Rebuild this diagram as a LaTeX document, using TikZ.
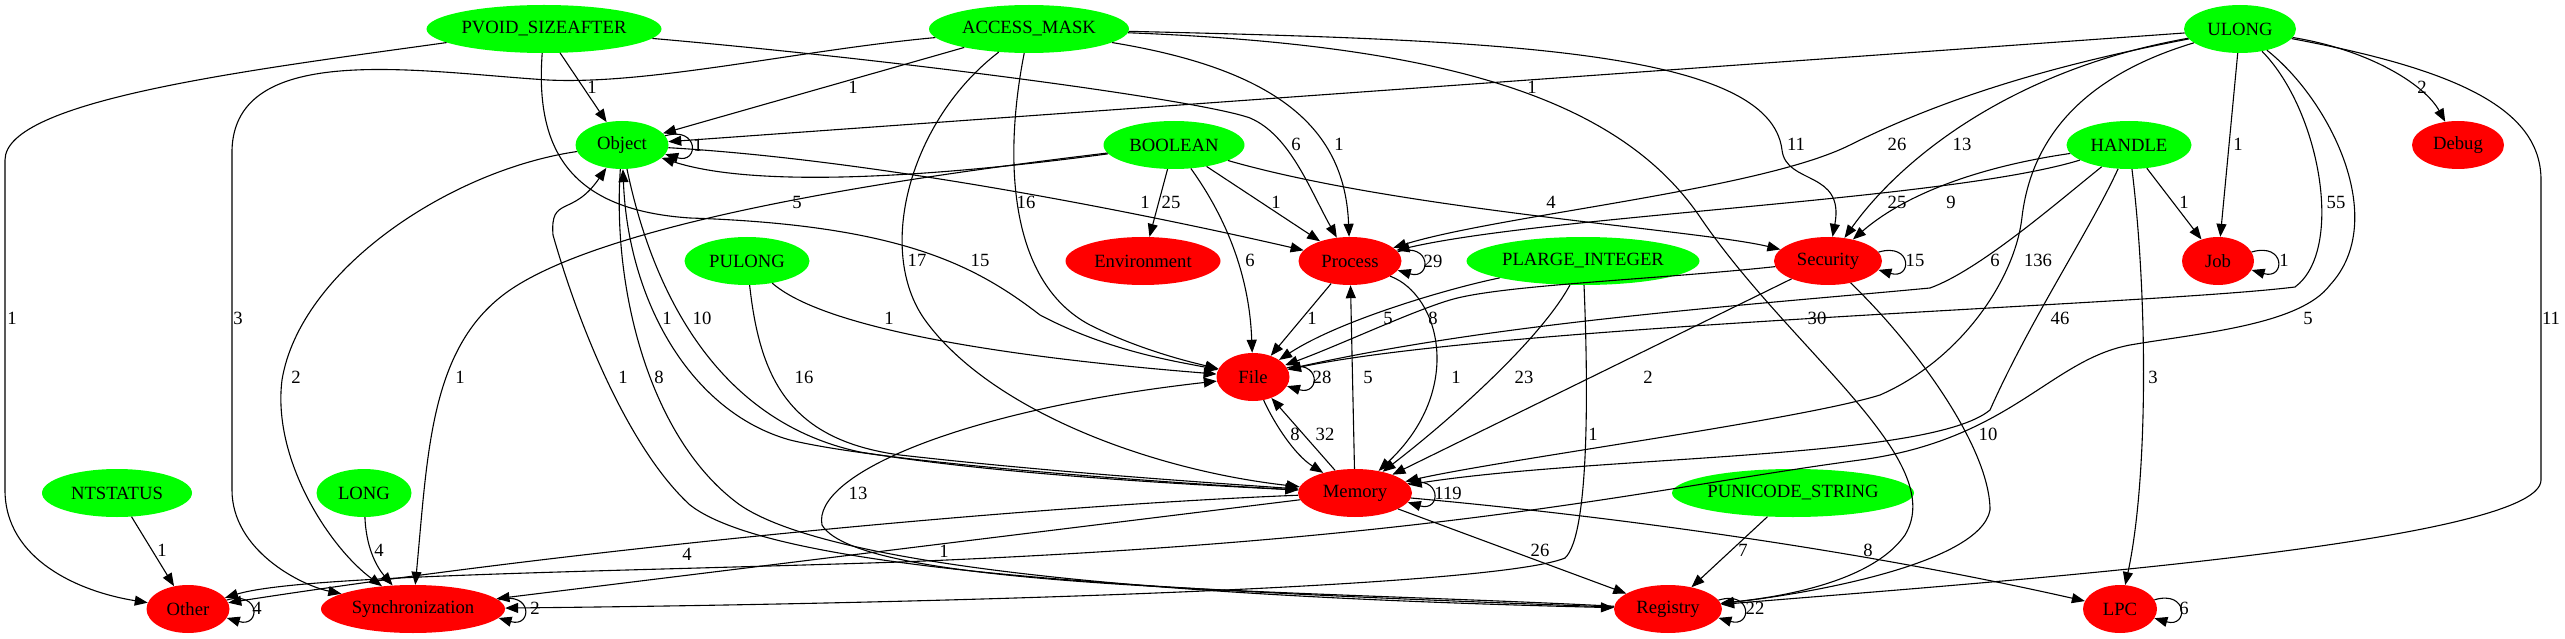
\documentclass[tikz,border=0pt]{standalone}
\usepackage{fontspec}
\setmainfont{Liberation Serif}
\usetikzlibrary{shapes.geometric,arrows.meta}
\definecolor{typegreen}{RGB}{0,255,0}
\definecolor{catred}{RGB}{255,0,0}
\newcommand\myloop[2]{\draw[conn] (#1.#2) .. controls +(34,-10) and +(34,10) .. (#1.-#2);}
\begin{document}
\begin{tikzpicture}[x=1pt,y=-1pt,
  tnode/.style={ellipse, fill=typegreen, inner sep=0pt, minimum height=48pt, font=\fontsize{18.67}{22}\selectfont},
  cnode/.style={ellipse, fill=catred, inner sep=0pt, minimum height=48pt, font=\fontsize{18.67}{22}\selectfont},
  lbl/.style={inner sep=0pt, font=\fontsize{18.67}{22}\selectfont},
  conn/.style={draw=black, line width=1.1pt, -{Triangle[length=13pt,width=10pt]}}]
\fill[white] (0,0) rectangle (2565,639);
\useasboundingbox (0,0) rectangle (2565,639);
% nodes
\node[tnode,minimum width=235pt] (pvoid) at (544,29) {PVOID\_SIZEAFTER};
\node[tnode,minimum width=200pt] (access) at (1029,29) {ACCESS\_MASK};
\node[tnode,minimum width=112pt] (ulong) at (2240,29) {ULONG};
\node[tnode,minimum width=93pt] (object) at (622,145) {Object};
\node[tnode,minimum width=141pt] (boolean) at (1174,145) {BOOLEAN};
\node[tnode,minimum width=125pt] (handle) at (2129,145) {HANDLE};
\node[cnode,minimum width=92pt] (debug) at (2458,145) {Debug};
\node[tnode,minimum width=125pt] (pulong) at (747,261) {PULONG};
\node[cnode,minimum width=155pt] (env) at (1143,261) {Environment};
\node[cnode,minimum width=103pt] (process) at (1350,261) {Process};
\node[tnode,minimum width=233pt] (plarge) at (1583,261) {PLARGE\_INTEGER};
\node[cnode,minimum width=108pt] (security) at (1828,261) {Security};
\node[cnode,minimum width=72pt] (job) at (2218,261) {Job};
\node[cnode,minimum width=73pt] (file) at (1253,377) {File};
\node[tnode,minimum width=150pt] (ntstatus) at (117,493) {NTSTATUS};
\node[tnode,minimum width=95pt] (long) at (364,493) {LONG};
\node[cnode,minimum width=114pt] (memory) at (1355,493) {Memory};
\node[tnode,minimum width=242pt] (punicode) at (1793,493) {PUNICODE\_STRING};
\node[cnode,minimum width=83pt] (other) at (188,609) {Other};
\node[cnode,minimum width=184pt] (sync) at (413,609) {Synchronization};
\node[cnode,minimum width=108pt] (registry) at (1668,609) {Registry};
\node[cnode,minimum width=74pt] (lpc) at (2120,609) {LPC};
% edges
\draw[conn] (pvoid) -- (object);
\draw[conn] (pvoid) .. controls (250,70) and (5,100) .. (5,160) -- (5,490) .. controls (5,560) and (80,592) .. (other);
\draw[conn] (access) .. controls (800,50) and (650,85) .. (548,80) .. controls (420,72) and (235,40) .. (232,150) -- (232,490) .. controls (232,550) and (300,585) .. (sync);
\draw[conn] (pvoid) .. controls (900,60) and (1200,100) .. (1250,118) .. controls (1290,135) and (1310,190) .. (process);
\draw[conn] (access) .. controls (1280,70) and (1345,130) .. (process);
\draw[conn] (access) -- (object);
\draw[conn] (ulong) -- (object);
\draw[conn] (boolean) .. controls (950,175) and (760,190) .. (object);
\draw[conn] (boolean) .. controls (950,172) and (620,215) .. (510,290) .. controls (430,345) and (428,450) .. (sync);
\draw[conn] (boolean) -- (env);
\draw[conn] (object) .. controls (880,160) and (1150,215) .. (process);
\draw[conn] (boolean) -- (process);
\draw[conn] (boolean) .. controls (1400,210) and (1700,230) .. (security);
\draw[conn] (boolean) .. controls (1235,230) and (1250,290) .. (file);
\draw[conn] (access) .. controls (1005,150) and (1005,280) .. (1090,325) .. controls (1140,350) and (1190,362) .. (file);
\draw[conn] (access) .. controls (910,120) and (875,250) .. (925,320) .. controls (990,410) and (1150,470) .. (memory);
\draw[conn] (access) .. controls (1500,40) and (1770,50) .. (1782,150) .. controls (1786,185) and (1845,170) .. (security);
\draw[conn] (access) .. controls (1450,45) and (1620,100) .. (1700,217) .. controls (1790,350) and (1950,460) .. (1905,535) .. controls (1870,585) and (1770,598) .. (registry);
\draw[conn] (ulong) .. controls (2080,60) and (1960,90) .. (1850,145) .. controls (1760,190) and (1500,215) .. (process);
\draw[conn] (handle) .. controls (1950,200) and (1550,215) .. (process);
\draw[conn] (ulong) .. controls (2010,70) and (1900,160) .. (security);
\draw[conn] (handle) .. controls (1990,165) and (1910,190) .. (security);
\draw[conn] (ulong) -- (job);
\draw[conn] (handle) -- (job);
\draw[conn] (ulong) .. controls (2370,50) and (2425,85) .. (debug);
\draw[conn] (ulong) .. controls (2320,110) and (2345,250) .. (2295,287) .. controls (2150,305) and (1500,325) .. (file);
\draw[conn] (handle) .. controls (2060,200) and (1980,270) .. (1930,288) .. controls (1750,305) and (1500,322) .. (file);
\draw[conn] (ulong) .. controls (2070,80) and (2030,150) .. (2022,217) .. controls (2015,280) and (1960,360) .. (1880,395) .. controls (1800,420) and (1500,460) .. (memory);
\draw[conn] (handle) .. controls (2090,230) and (2030,320) .. (1990,410) .. controls (1930,460) and (1600,455) .. (memory);
\draw[conn] (ulong) .. controls (2330,100) and (2390,220) .. (2330,285) .. controls (2300,325) and (2200,333) .. (2130,345) .. controls (2050,360) and (2010,440) .. (1860,460) .. controls (1650,488) and (1450,540) .. (900,562) .. controls (600,572) and (300,575) .. (other);
\draw[conn] (ulong) .. controls (2460,70) and (2541,110) .. (2541,180) -- (2541,480) .. controls (2541,545) and (1950,585) .. (registry);
\draw[conn] (handle) .. controls (2148,300) and (2148,480) .. (lpc);
\draw[conn] (plarge) .. controls (1450,288) and (1340,320) .. (file);
\draw[conn] (security) .. controls (1650,280) and (1500,285) .. (1450,300) .. controls (1410,312) and (1340,345) .. (file);
\draw[conn] (process) -- (file);
\draw[conn] (pulong) .. controls (820,325) and (980,355) .. (file);
\draw[conn] (pvoid) .. controls (535,150) and (570,210) .. (690,218) .. controls (900,225) and (975,265) .. (1040,315) .. controls (1110,352) and (1180,362) .. (file);
\draw[conn] (pulong) .. controls (760,380) and (790,440) .. (900,455) .. controls (1050,472) and (1200,482) .. (memory);
\draw[conn] (object) .. controls (650,280) and (710,420) .. (860,452) .. controls (1000,475) and (1200,485) .. (memory);
\draw[conn] (memory) .. controls (1150,482) and (880,462) .. (790,440) .. controls (690,412) and (628,300) .. (object);
\draw[conn] (object) .. controls (612,290) and (650,440) .. (740,505) .. controls (850,580) and (1300,600) .. (registry);
\draw[conn] (registry) .. controls (1200,592) and (780,575) .. (690,505) .. controls (630,450) and (580,330) .. (553,235) .. controls (550,195) and (572,218) .. (object);
\draw[conn] (object) .. controls (450,170) and (300,270) .. (282,380) .. controls (272,460) and (330,548) .. (sync);
\draw[conn] (long) .. controls (366,545) and (375,565) .. (sync);
\draw[conn] (ntstatus) -- (other);
\draw[conn] (memory) .. controls (1050,505) and (600,545) .. (other);
\draw[conn] (memory) -- (sync);
\draw[conn] (plarge) .. controls (1588,380) and (1590,535) .. (1565,558) .. controls (1500,585) and (1000,603) .. (sync);
\draw[conn] (plarge) .. controls (1540,340) and (1450,420) .. (memory);
\draw[conn] (security) -- (memory);
\draw[conn] (process) .. controls (1440,295) and (1465,390) .. (memory);
\draw[conn] (memory) -- (process);
\draw[conn] (file) .. controls (1275,425) and (1295,455) .. (memory);
\draw[conn] (memory) -- (file);
\draw[conn] (registry) .. controls (1300,590) and (860,590) .. (822,525) .. controls (812,475) and (960,410) .. (file);
\draw[conn] (memory) -- (registry);
\draw[conn] (memory) .. controls (1600,515) and (1850,548) .. (lpc);
\draw[conn] (punicode) -- (registry);
\draw[conn] (security) .. controls (1920,350) and (1990,450) .. (1990,510) .. controls (1980,565) and (1800,595) .. (registry);
% self loops
\myloop{object}{12}
\myloop{process}{11}
\myloop{security}{10}
\myloop{job}{15}
\myloop{file}{15}
\myloop{memory}{10}
\myloop{registry}{10}
\myloop{lpc}{15}
\myloop{other}{13}
\myloop{sync}{6}
% edge labels
\node[lbl] (l1) at (592,87) {1};
\node[lbl] (l2) at (12,318) {1};
\node[lbl] (l3) at (238,318) {3};
\node[lbl] (l4) at (1296,144) {6};
\node[lbl] (l5) at (1339,144) {1};
\node[lbl] (l6) at (853,87) {1};
\node[lbl] (l7) at (1532,87) {1};
\node[lbl] (l8) at (698,145) {1};
\node[lbl] (l9) at (797,202) {5};
\node[lbl] (l10) at (460,377) {1};
\node[lbl] (l11) at (1171,202) {25};
\node[lbl] (l12) at (1145,202) {1};
\node[lbl] (l13) at (1276,202) {1};
\node[lbl] (l14) at (1551,202) {4};
\node[lbl] (l15) at (1250,260) {6};
\node[lbl] (l16) at (1026,202) {16};
\node[lbl] (l17) at (917,260) {17};
\node[lbl] (l18) at (1796,144) {11};
\node[lbl] (l19) at (1817,318) {30};
\node[lbl] (l20) at (1897,144) {26};
\node[lbl] (l21) at (1897,202) {25};
\node[lbl] (l22) at (1962,144) {13};
\node[lbl] (l23) at (1951,202) {9};
\node[lbl] (l24) at (2238,144) {1};
\node[lbl] (l25) at (2184,202) {1};
\node[lbl] (l26) at (2422,87) {2};
\node[lbl] (l27) at (2336,202) {55};
\node[lbl] (l28) at (1995,260) {6};
\node[lbl] (l29) at (2038,260) {136};
\node[lbl] (l30) at (2060,318) {46};
\node[lbl] (l31) at (2308,318) {5};
\node[lbl] (l32) at (2551,318) {11};
\node[lbl] (l33) at (2153,377) {3};
\node[lbl] (l34) at (1388,318) {5};
\node[lbl] (l35) at (1433,318) {8};
\node[lbl] (l36) at (1312,318) {1};
\node[lbl] (l37) at (889,318) {1};
\node[lbl] (l38) at (980,260) {15};
\node[lbl] (l39) at (804,377) {16};
\node[lbl] (l40) at (702,318) {10};
\node[lbl] (l41) at (667,318) {1};
\node[lbl] (l42) at (659,377) {8};
\node[lbl] (l43) at (623,377) {1};
\node[lbl] (l44) at (296,377) {2};
\node[lbl] (l45) at (379,550) {4};
\node[lbl] (l46) at (162,550) {1};
\node[lbl] (l47) at (687,554) {4};
\node[lbl] (l48) at (944,551) {1};
\node[lbl] (l49) at (1593,434) {1};
\node[lbl] (l50) at (1524,377) {23};
\node[lbl] (l51) at (1648,377) {2};
\node[lbl] (l52) at (1456,377) {1};
\node[lbl] (l53) at (1368,377) {5};
\node[lbl] (l54) at (1295,434) {8};
\node[lbl] (l55) at (1325,434) {32};
\node[lbl] (l56) at (858,493) {13};
\node[lbl] (l57) at (1540,550) {26};
\node[lbl] (l58) at (1868,550) {8};
\node[lbl] (l59) at (1743,550) {7};
\node[lbl] (l60) at (1988,434) {10};
% loop labels
\node[lbl] (m1) at (1433,261) {29};
\node[lbl] (m2) at (1915,260) {15};
\node[lbl] (m3) at (2284,260) {1};
\node[lbl] (m4) at (1322,377) {28};
\node[lbl] (m5) at (1448,493) {119};
\node[lbl] (m6) at (1755,608) {22};
\node[lbl] (m7) at (2184,608) {6};
\node[lbl] (m8) at (257,608) {4};
\node[lbl] (m9) at (535,608) {2};
\end{tikzpicture}
\end{document}
